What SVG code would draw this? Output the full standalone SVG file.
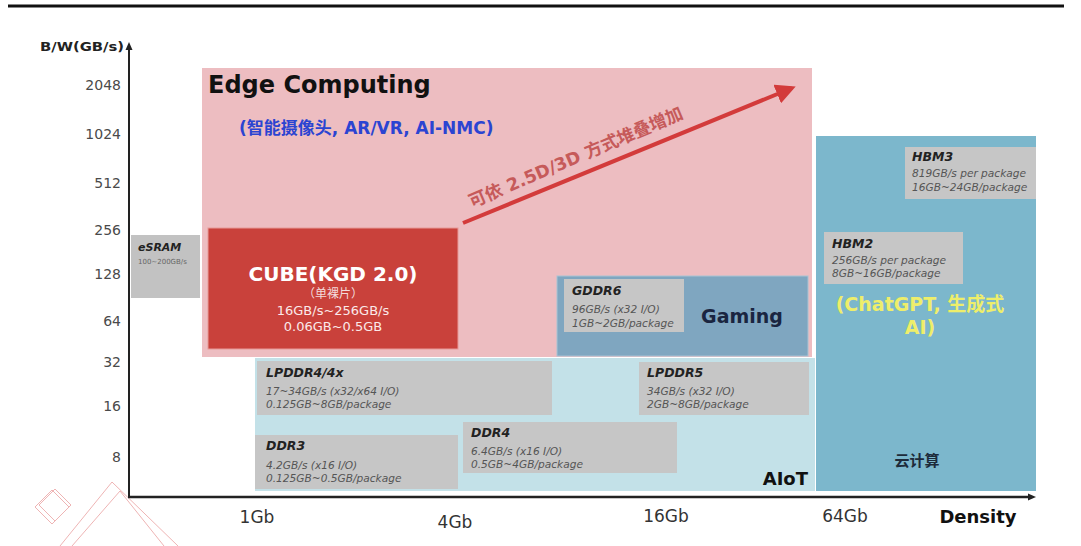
<svg xmlns="http://www.w3.org/2000/svg" width="1081" height="546" viewBox="0 0 1081 546">
<defs>
<style>
.t{font-family:"DejaVu Sans","Noto Sans CJK SC",sans-serif}
.tick{font-family:"DejaVu Sans",sans-serif;font-size:14px;fill:#4a4a4a;text-anchor:end}
.xl{font-family:"DejaVu Sans",sans-serif;font-size:17px;fill:#333;text-anchor:middle}
.box{fill:#c6c6c6}
.bt{font-family:"DejaVu Sans",sans-serif;font-size:12.5px;font-weight:bold;font-style:italic;fill:#222}
.bs{font-family:"DejaVu Sans",sans-serif;font-size:10.6px;font-style:italic;fill:#555}
.deco{fill:none;stroke:#eeb4b4;stroke-width:1}
</style>
<marker id="ah" viewBox="0 0 10 10" refX="8" refY="5" markerWidth="5" markerHeight="5" orient="auto">
<path d="M0,0 L10,5 L0,10 z" fill="#d33b3b"/>
</marker>
</defs>
<rect width="1081" height="546" fill="#fff"/>
<line x1="8" y1="6" x2="1064" y2="6" stroke="#111" stroke-width="3"/>

<g id="decoration">
<path class="deco" d="M35,507 L52,490 L69,507 L52,524 Z"/>
<path class="deco" d="M39,505 L55,489 L71,505 L55,521 Z"/>
<path class="deco" d="M60,546 L112,482 L178,546"/>
<path class="deco" d="M72,546 L120,491 L164,546"/>
</g>

<g id="edge-computing">
<rect x="202" y="68" width="610" height="289" fill="#edbdc1"/>
<text class="t" x="208" y="93" font-size="24" font-weight="bold" fill="#111">Edge Computing</text>
<text class="t" x="239" y="134" font-size="17" font-weight="bold" fill="#2b44d2">(智能摄像头, AR/VR, AI-NMC)</text>
</g>

<g id="aiot">
<rect x="255" y="358" width="560" height="133" fill="#c3e1e8"/>
<text class="t" x="808" y="485" font-size="18" font-weight="bold" fill="#111" text-anchor="end">AIoT</text>
</g>

<g id="cloud">
<rect x="816" y="136" width="220" height="355" fill="#7cb7cc"/>
<text class="t" x="920" y="311" font-size="19" font-weight="bold" fill="#eeee6a" text-anchor="middle">(ChatGPT, 生成式</text>
<text class="t" x="920" y="334" font-size="19" font-weight="bold" fill="#eeee6a" text-anchor="middle">AI)</text>
<text class="t" x="917" y="466" font-size="15" font-weight="bold" fill="#1d2b3a" text-anchor="middle">云计算</text>
</g>

<g id="gaming">
<rect x="557" y="276" width="251" height="80" fill="#7fa6c0" stroke="#a9c3d4" stroke-width="1"/>
<text class="t" x="742" y="323" font-size="19" font-weight="bold" fill="#1a2540" text-anchor="middle">Gaming</text>
</g>

<g id="esram">
<rect x="131" y="235" width="69" height="63" fill="#c2c2c2"/>
<text class="bt" x="138" y="251" style="font-size:11px">eSRAM</text>
<text class="t" x="138" y="264" font-size="7" fill="#666">100~200GB/s</text>
</g>

<g id="cube">
<rect x="208" y="228" width="250" height="121" fill="#c9413b" stroke="#e79a98" stroke-width="1"/>
<text class="t" x="333" y="281" font-size="20" font-weight="bold" fill="#fff" text-anchor="middle">CUBE(KGD 2.0)</text>
<text class="t" x="333" y="298" font-size="12" fill="#f3dcdc" text-anchor="middle">（单裸片）</text>
<text class="t" x="333" y="315" font-size="13" fill="#fbe9e9" text-anchor="middle">16GB/s~256GB/s</text>
<text class="t" x="333" y="331" font-size="13" fill="#fbe9e9" text-anchor="middle">0.06GB~0.5GB</text>
</g>

<g id="gddr6">
<rect class="box" x="564" y="279" width="120" height="53"/>
<text class="bt" x="572" y="295">GDDR6</text>
<text class="bs" x="572" y="313">96GB/s (x32 I/O)</text>
<text class="bs" x="572" y="327">1GB~2GB/package</text>
</g>

<g id="lpddr4">
<rect class="box" x="257" y="361" width="295" height="54"/>
<text class="bt" x="266" y="377">LPDDR4/4x</text>
<text class="bs" x="266" y="395">17~34GB/s (x32/x64 I/O)</text>
<text class="bs" x="266" y="408">0.125GB~8GB/package</text>
</g>

<g id="lpddr5">
<rect class="box" x="639" y="362" width="170" height="53"/>
<text class="bt" x="647" y="377">LPDDR5</text>
<text class="bs" x="647" y="395">34GB/s (x32 I/O)</text>
<text class="bs" x="647" y="408">2GB~8GB/package</text>
</g>

<g id="ddr3">
<rect class="box" x="255" y="435" width="203" height="54"/>
<text class="bt" x="266" y="450">DDR3</text>
<text class="bs" x="266" y="469">4.2GB/s (x16 I/O)</text>
<text class="bs" x="266" y="482">0.125GB~0.5GB/package</text>
</g>

<g id="ddr4">
<rect class="box" x="463" y="422" width="214" height="51"/>
<text class="bt" x="471" y="437">DDR4</text>
<text class="bs" x="471" y="455">6.4GB/s (x16 I/O)</text>
<text class="bs" x="471" y="468">0.5GB~4GB/package</text>
</g>

<g id="hbm2">
<rect class="box" x="824" y="232" width="139" height="52"/>
<text class="bt" x="832" y="248">HBM2</text>
<text class="bs" x="832" y="264">256GB/s per package</text>
<text class="bs" x="832" y="277">8GB~16GB/package</text>
</g>

<g id="hbm3">
<rect class="box" x="905" y="147" width="131" height="52"/>
<text class="bt" x="912" y="161">HBM3</text>
<text class="bs" x="912" y="177">819GB/s per package</text>
<text class="bs" x="912" y="191">16GB~24GB/package</text>
</g>

<g id="connectors">
<line x1="463" y1="223" x2="792" y2="88" stroke="#d33b3b" stroke-width="4" marker-end="url(#ah)"/>
<text class="t" transform="translate(472,208) rotate(-23)" font-size="17.5" font-weight="bold" fill="#c65a5a">可依 2.5D/3D 方式堆叠增加</text>
</g>

<g id="axes">
<line x1="129" y1="497" x2="129" y2="48" stroke="#222" stroke-width="2"/>
<path d="M125.5,50 L129,42 L132.5,50 Z" fill="#222"/>
<line x1="128" y1="497" x2="1030" y2="497" stroke="#222" stroke-width="2.5"/>
<path d="M1028,493.5 L1036,497 L1028,500.5 Z" fill="#222"/>
<text class="t" x="40" y="51" font-size="13" font-weight="bold" fill="#222" textLength="84" lengthAdjust="spacingAndGlyphs">B/W(GB/s)</text>
<text class="tick" x="121" y="90">2048</text>
<text class="tick" x="121" y="139">1024</text>
<text class="tick" x="121" y="188">512</text>
<text class="tick" x="121" y="235">256</text>
<text class="tick" x="121" y="279">128</text>
<text class="tick" x="121" y="326">64</text>
<text class="tick" x="121" y="367">32</text>
<text class="tick" x="121" y="411">16</text>
<text class="tick" x="121" y="462">8</text>
<text class="xl" x="257" y="523">1Gb</text>
<text class="xl" x="455" y="528">4Gb</text>
<text class="xl" x="666" y="522">16Gb</text>
<text class="xl" x="845" y="522">64Gb</text>
<text class="t" x="978" y="523" font-size="18" font-weight="bold" fill="#111" text-anchor="middle">Density</text>
</g>
</svg>
